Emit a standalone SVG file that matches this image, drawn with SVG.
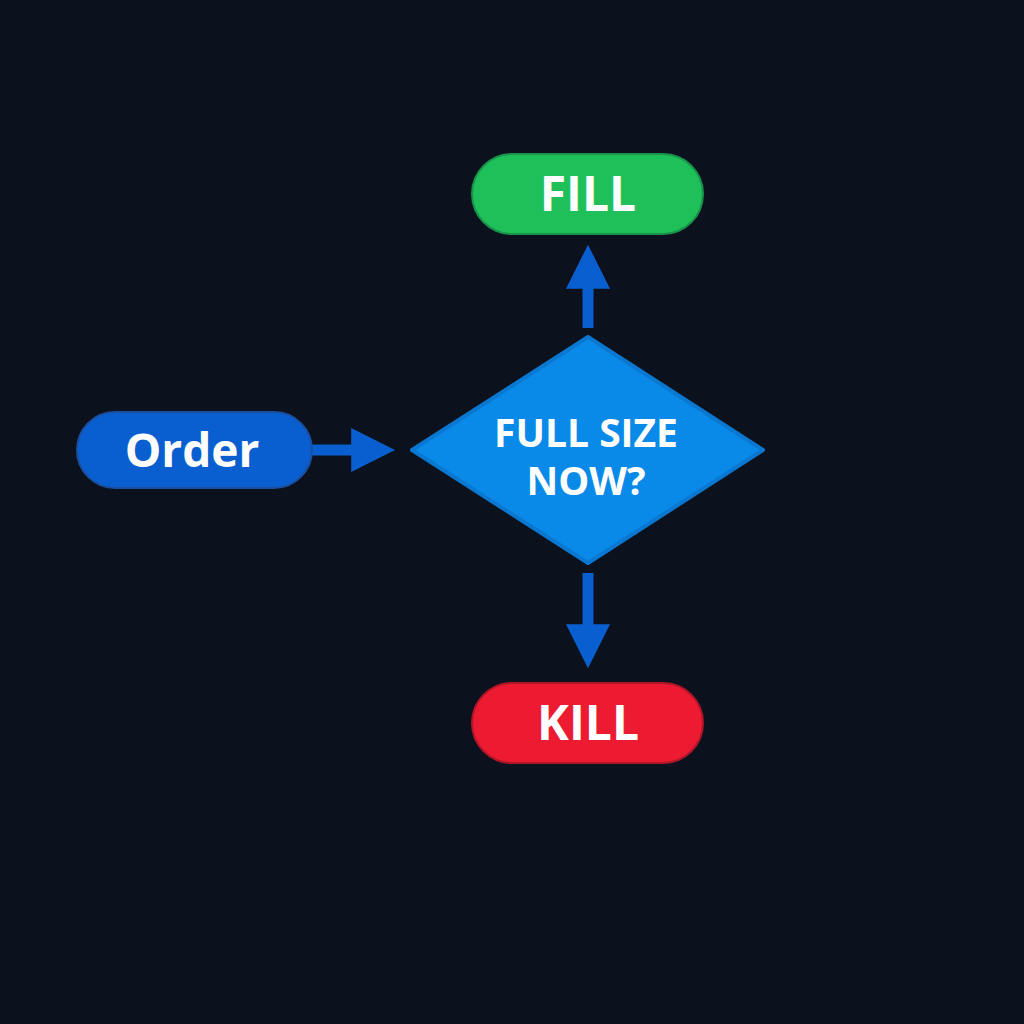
<svg xmlns="http://www.w3.org/2000/svg" width="1024" height="1024" viewBox="0 0 1024 1024">
<style>
text{font-family:"Open Sans","Noto Sans","DejaVu Sans",sans-serif;font-weight:bold;fill:#fff;text-anchor:middle}
.c{stroke:#0a5fd0;stroke-width:11;fill:none}
</style>
<defs><marker id="a" viewBox="0 0 10 10" refX="2" refY="5" markerWidth="4" markerHeight="4" orient="auto" markerUnits="strokeWidth"><path d="M0,0L10,5L0,10z" fill="#0a5fd0"/></marker></defs>
<rect width="1024" height="1024" fill="#0b121e"/>
<g id="connectors">
<path class="c" d="M312,450H360" marker-end="url(#a)"/>
<path class="c" d="M588,328V280" marker-end="url(#a)"/>
<path class="c" d="M588,573V633" marker-end="url(#a)"/>
</g>
<g id="order"><rect x="77" y="412" width="235" height="76" rx="38" fill="#0a5fd0" stroke="#1a4fa0" stroke-width="2"/><text x="192" y="467" font-size="46">Order</text></g>
<g id="decision"><path d="M588,337L763,450L588,563L412,450z" fill="#0a8ae8" stroke="#0a78d0" stroke-width="4" stroke-linejoin="round"/><text x="586" y="447" font-size="39">FULL SIZE</text><text x="586" y="495" font-size="39">NOW?</text></g>
<g id="fill"><rect x="472" y="154" width="231" height="80" rx="40" fill="#1fbf5a" stroke="#17934a" stroke-width="2"/><text x="588" y="211" font-size="48">FILL</text></g>
<g id="kill"><rect x="472" y="683" width="231" height="80" rx="40" fill="#ec1b32" stroke="#b01528" stroke-width="2"/><text x="588" y="740" font-size="48">KILL</text></g>
</svg>
